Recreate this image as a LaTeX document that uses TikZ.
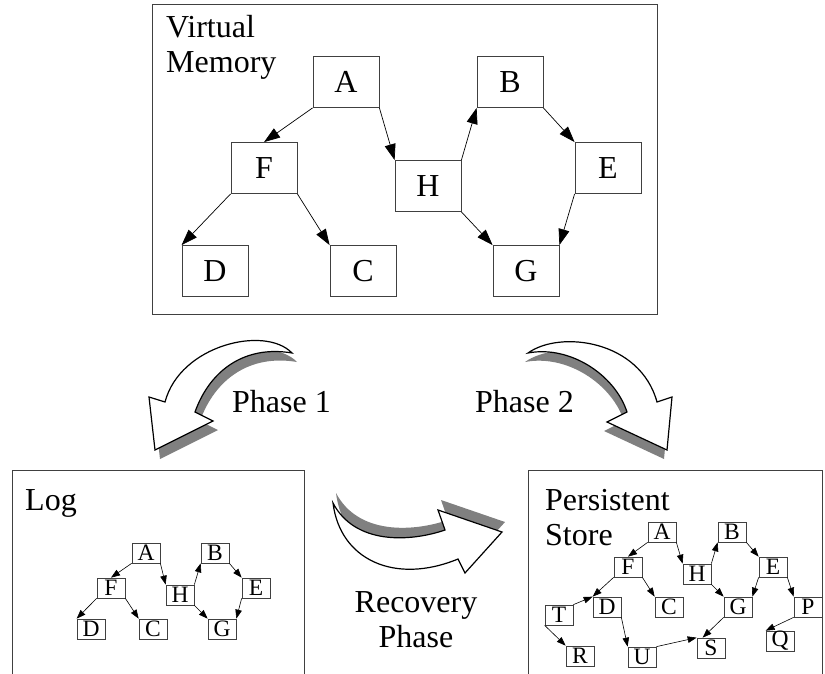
\documentclass[tikz,border=0pt]{standalone}
\usepackage{fontspec}
\setmainfont{Liberation Serif}
\usetikzlibrary{arrows.meta}
\begin{document}
\begin{tikzpicture}[x=1pt,y=-1pt,
  bignode/.style={draw=black!75, line width=0.8pt, minimum width=66pt, minimum height=51pt, inner sep=0pt, font=\fontsize{32}{35}\selectfont},
  smallnode/.style={draw=black!75, line width=0.7pt, minimum width=28pt, minimum height=20pt, inner sep=0pt, font=\fontsize{23.5}{24}\selectfont},
  bigedge/.style={-{Triangle[length=16pt,width=11pt]}, line width=0.7pt},
  smalledge/.style={-{Triangle[length=9pt,width=6.5pt]}, line width=0.6pt},
  panel/.style={draw=black!75, line width=0.9pt},
  lbl/.style={inner sep=0pt, font=\fontsize{32}{35}\selectfont},
  bigarrow/.style={fill=white, draw=black, line width=1.2pt, line join=miter},
  shadowfill/.style={fill=black!50},
  arrowone/.style={insert path={(292,353) .. controls (265,325) and (180,345) .. (165,402) -- (149,397) -- (155,450) -- (213,421) -- (195,412) .. controls (210,370) and (245,345) .. (292,353) -- cycle}},
  arrowtwo/.style={insert path={(528,353) .. controls (560,330) and (640,340) .. (657,402) -- (672,397) -- (667,450) -- (607,422) -- (627,412) .. controls (615,375) and (570,345) .. (528,353) -- cycle}},
  arrowrec/.style={insert path={(333,503) .. controls (340,560) and (395,585) .. (458,559) -- (465,573) -- (502,532) -- (438,510) -- (445,530) .. controls (410,542) and (355,545) .. (333,503) -- cycle}}
]
\useasboundingbox (0,0) rectangle (825,674);
\clip (0,0) rectangle (825,674);

% ---------- Virtual memory panel ----------
\draw[panel] (152,4) rectangle (657,314);
\node[lbl, anchor=base west] (vmt1) at (166,38) {Virtual};
\node[lbl, anchor=base west] (vmt2) at (166,73) {Memory};

\node[bignode] (A) at (346,82) {A};
\node[bignode] (B) at (510,82) {B};
\node[bignode] (F) at (264,168) {F};
\node[bignode] (H) at (428,186) {H};
\node[bignode] (E) at (608,168) {E};
\node[bignode] (D) at (215,271) {D};
\node[bignode] (C) at (363,271) {C};
\node[bignode] (G) at (526,271) {G};

\draw[bigedge] (A.south west) -- (F.north);
\draw[bigedge] (A.south east) -- (H.north west);
\draw[bigedge] (H.north east) -- (B.south west);
\draw[bigedge] (B.south east) -- (E.north west);
\draw[bigedge] (F.south west) -- (D.north west);
\draw[bigedge] (F.south east) -- (C.north west);
\draw[bigedge] (H.south east) -- (G.north west);
\draw[bigedge] (E.south west) -- (G.north east);

% ---------- Big curved arrows ----------
\fill[shadowfill, shift={(5,9)}, arrowone];
\path[bigarrow, arrowone];
\fill[shadowfill, shift={(-3,9)}, arrowtwo];
\path[bigarrow, arrowtwo];
\fill[shadowfill, shift={(3,-10)}, arrowrec];
\path[bigarrow, arrowrec];

\node[lbl, anchor=base west] (ph1) at (232,412) {Phase 1};
\node[lbl, anchor=base west] (ph2) at (475,412) {Phase 2};
\node[lbl, anchor=base] (rec1) at (416,612) {Recovery};
\node[lbl, anchor=base] (rec2) at (416,647) {Phase};

% ---------- Log panel ----------
\draw[panel] (12,700) -- (12,470) -- (304,470) -- (304,700);
\node[lbl, anchor=base west] (logt) at (25,510) {Log};

\node[smallnode] (lA) at (146,553) {A};
\node[smallnode] (lB) at (215,553) {B};
\node[smallnode] (lF) at (111,588) {F};
\node[smallnode] (lH) at (180,595) {H};
\node[smallnode] (lE) at (256,588) {E};
\node[smallnode] (lD) at (91,629) {D};
\node[smallnode] (lC) at (153,629) {C};
\node[smallnode] (lG) at (222,629) {G};

\draw[smalledge] (lA.south west) -- (lF.north);
\draw[smalledge] (lA.south east) -- (lH.north west);
\draw[smalledge] (lH.north east) -- (lB.south west);
\draw[smalledge] (lB.south east) -- (lE.north west);
\draw[smalledge] (lF.south west) -- (lD.north west);
\draw[smalledge] (lF.south east) -- (lC.north west);
\draw[smalledge] (lH.south east) -- (lG.north west);
\draw[smalledge] (lE.south west) -- (lG.north east);

% ---------- Persistent store panel ----------
\draw[panel] (528,700) -- (528,470) -- (822,470) -- (822,700);
\node[lbl, anchor=base west] (pst1) at (545,510) {Persistent};
\node[lbl, anchor=base west] (pst2) at (545,545) {Store};

\node[smallnode] (pA) at (662,532) {A};
\node[smallnode] (pB) at (732,532) {B};
\node[smallnode] (pF) at (628,567) {F};
\node[smallnode] (pH) at (697,574) {H};
\node[smallnode] (pE) at (773,567) {E};
\node[smallnode] (pT) at (559,615) {T};
\node[smallnode] (pD) at (607,607) {D};
\node[smallnode] (pC) at (669,607) {C};
\node[smallnode] (pG) at (738,607) {G};
\node[smallnode] (pP) at (808,607) {P};
\node[smallnode] (pR) at (580,656) {R};
\node[smallnode] (pU) at (642,657) {U};
\node[smallnode] (pS) at (711,648) {S};
\node[smallnode] (pQ) at (780,641) {Q};

\draw[smalledge] (pA.south west) -- (pF.north);
\draw[smalledge] (pA.south east) -- (pH.north west);
\draw[smalledge] (pH.north east) -- (pB.south west);
\draw[smalledge] (pB.south east) -- (pE.north west);
\draw[smalledge] (pF.south west) -- (pD.north west);
\draw[smalledge] (pF.south east) -- (pC.north west);
\draw[smalledge] (pH.south east) -- (pG.north west);
\draw[smalledge] (pE.south west) -- (pG.north east);
\draw[smalledge] (pE.south east) -- (pP.north west);
\draw[smalledge] (pP.south west) -- (pQ.north west);
\draw[smalledge] (pT.north east) -- (pD.north west);
\draw[smalledge] (pT.south west) -- (pR.north west);
\draw[smalledge] (pD.south east) -- (pU.north west);
\draw[smalledge] (pU.north east) -- (pS.north west);
\draw[smalledge] (pG.south west) -- ([xshift=6pt]pS.north west);
\end{tikzpicture}
\end{document}
